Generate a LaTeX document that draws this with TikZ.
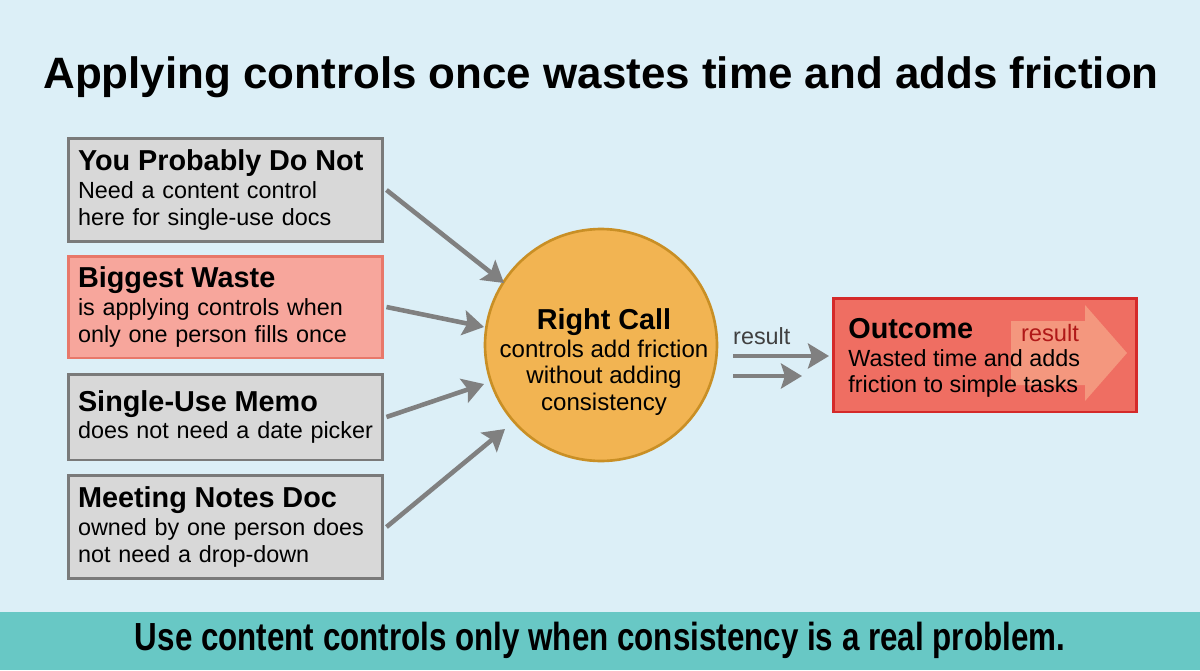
\documentclass[tikz,border=0pt]{standalone}
\usepackage{fontspec}
\setmainfont{Liberation Sans}
\usepackage{graphicx}
\usetikzlibrary{shapes.geometric, arrows, arrows.meta}
\definecolor{bgblue}{HTML}{DCEFF7}
\definecolor{bandteal}{HTML}{68C8C5}
\definecolor{boxgray}{HTML}{D8D8D8}
\definecolor{edgegray}{HTML}{7A7A7A}
\definecolor{boxsalmon}{HTML}{F7A69C}
\definecolor{edgesalmon}{HTML}{E8786A}
\definecolor{callorange}{HTML}{F2B452}
\definecolor{edgeorange}{HTML}{C98F25}
\definecolor{outred}{HTML}{EF6E62}
\definecolor{edgered}{HTML}{D42A2A}
\definecolor{ghostarrow}{HTML}{F6A286}
\definecolor{darkred}{HTML}{B01818}
\definecolor{arrowgray}{HTML}{808080}
\tikzstyle{reason} = [rectangle, minimum width=6.3cm, text width=5.9cm, inner xsep=0.2cm, align=left, draw=edgegray, line width=1.7pt, fill=boxgray, font=\fontsize{13.3}{14.9}\selectfont]
\tikzstyle{waste} = [reason, draw=edgesalmon, fill=boxsalmon]
\tikzstyle{call} = [circle, minimum size=4.64cm, draw=edgeorange, line width=1.5pt, fill=callorange]
\tikzstyle{outcome} = [rectangle, minimum width=6.08cm, minimum height=2.28cm, draw=edgered, line width=1.7pt, fill=outred]
\tikzstyle{arrow} = [line width=2.6pt, draw=arrowgray, ->, >={Stealth[length=0.42cm, width=0.5cm, inset=0.08cm]}]
\newcommand{\boxhead}[1]{\mbox{\fontsize{16.4}{19}\selectfont\bfseries #1}}

\begin{document}
\begin{tikzpicture}[x=0.02cm, y=-0.02cm]

	% background and bottom band
	\fill[bgblue] (0,0) rectangle (1200,670);
	\fill[bandteal] (0,612) rectangle (1200,670);
	\useasboundingbox (0,0) rectangle (1200,670);

	\node (title) at (601,77) {\fontsize{25}{29}\selectfont\bfseries Applying controls once wastes time and adds friction};

	\node (why1) [reason, minimum height=2.06cm] at (225.5,190) {\boxhead{You Probably Do Not}\\[1pt]Need a content control\\here for single-use docs};
	\node (why2) [waste, minimum height=2.04cm] at (225.5,307) {\boxhead{Biggest Waste}\\[1pt]is applying controls when\\only one person fills once};
	\node (why3) [reason, minimum height=1.72cm] at (225.5,417) {\boxhead{Single-Use Memo}\\[1pt]does not need a date picker};
	\node (why4) [reason, minimum height=2.06cm] at (225.5,527) {\boxhead{Meeting Notes Doc}\\[1pt]owned by one person does\\not need a drop-down};

	\node (call) [call] at (601,345) {};
	\node (calltext) [align=center, font=\fontsize{13.7}{14.9}\selectfont] at (604,362) {\boxhead{Right Call}\\[1pt]controls add friction\\without adding\\consistency};

	\node (out) [outcome] at (985,355) {};
	\fill[ghostarrow, opacity=0.8] (1011,321) -- (1085,321) -- (1085,305) -- (1127,353) -- (1085,401) -- (1085,385) -- (1011,385) -- cycle;
	\node (outtext) [anchor=north west, align=left, inner sep=0pt, font=\fontsize{13.3}{14.9}\selectfont] at (848,318) {\boxhead{Outcome}\\[1pt]Wasted time and adds\\friction to simple tasks};
	\node (outtag) [text=darkred, font=\fontsize{13.5}{16}\selectfont] at (1050,333) {result};

	\coordinate (r1a) at (733,356);
	\coordinate (r1b) at (829,356);
	\coordinate (r2a) at (733,376);
	\coordinate (r2b) at (802,376);

	\draw [arrow] (why1.east) ++(2,0) -- (504,283);
	\draw [arrow] (why2.east) ++(2,0) -- (484,327);
	\draw [arrow] (why3.east) ++(2,0) -- (484,384);
	\draw [arrow] (why4.east) ++(2,0) -- (505,429);
	\draw [arrow] (r1a) -- node[above, text=darkgray, font=\fontsize{13.3}{15}\selectfont, pos=0.3, yshift=2pt] {result} (r1b);
	\draw [arrow] (r2a) -- (r2b);

	\node (tagline) at (600,640) {\scalebox{0.8}[1]{\fontsize{22.3}{26}\selectfont\bfseries Use content controls only when consistency is a real problem.}};

	\end{tikzpicture}
\end{document}
